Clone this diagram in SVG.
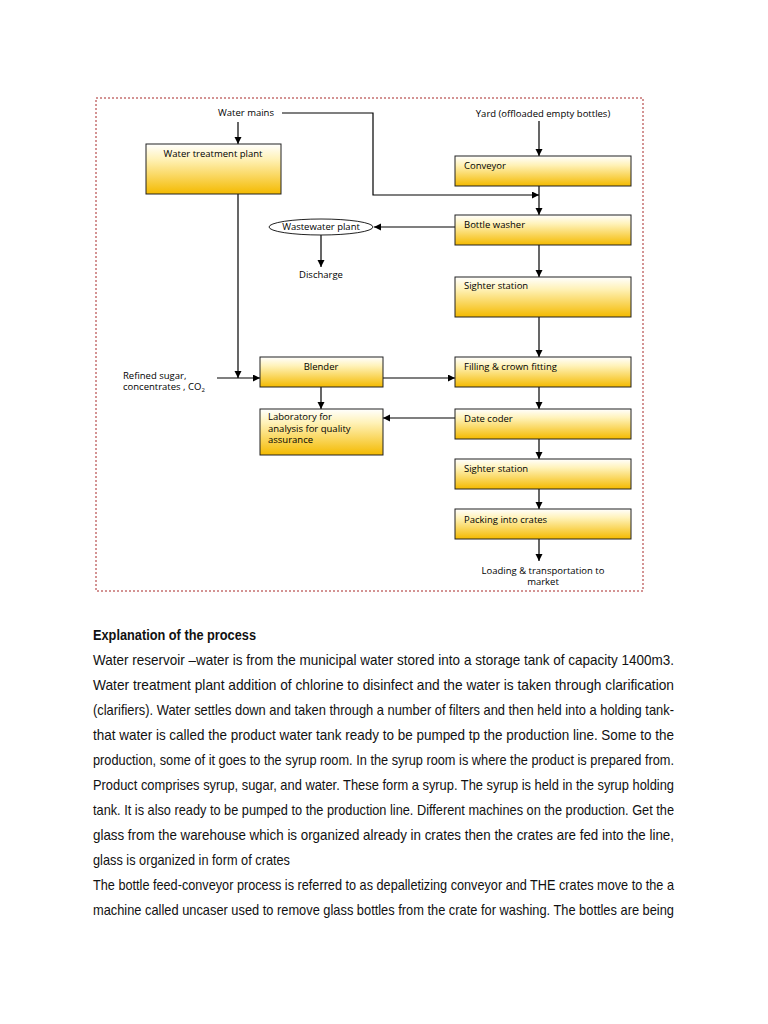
<svg xmlns="http://www.w3.org/2000/svg" width="768" height="1024" viewBox="0 0 768 1024">
<defs>
<linearGradient id="gold" x1="0" y1="0" x2="0" y2="1">
<stop offset="0" stop-color="#ffffff"/>
<stop offset="0.3" stop-color="#fff2b8"/>
<stop offset="1" stop-color="#f4ba00"/>
</linearGradient>
<marker id="ah" markerUnits="userSpaceOnUse" markerWidth="8" markerHeight="8" refX="7" refY="3.5" orient="auto">
<path d="M0,0 L7,3.5 L0,7 z" fill="#000"/>
</marker>
<style>
.box{fill:url(#gold);stroke:#222;stroke-width:1}
.lbl{font-family:"Open Sans","DejaVu Sans",sans-serif;font-size:9.5px;fill:#000}
.c{text-anchor:middle}
.con path{fill:none;stroke:#000;stroke-width:1.2;marker-end:url(#ah)}
.body{font-family:"Liberation Sans Narrow","Liberation Sans",Arial,sans-serif;font-size:14.5px;fill:#111}
</style>
</defs>
<rect width="768" height="1024" fill="#fff"/>
<rect x="96" y="98" width="547" height="493" fill="none" stroke="#a82828" stroke-width="1" stroke-dasharray="2,2"/>

<g class="con" id="connectors">
<path d="M238,122 V144"/>
<path d="M282,113 H373 V195 H539"/>
<path d="M539,121 V156"/>
<path d="M539,186 V215"/>
<path d="M455,227 H374"/>
<path d="M321,235 V267"/>
<path d="M539,245 V277"/>
<path d="M539,317 V357"/>
<path d="M539,387 V409"/>
<path d="M539,439 V459"/>
<path d="M539,489 V509"/>
<path d="M539,539 V561"/>
<path d="M238,194 V378"/>
<path d="M217,378 H260"/>
<path d="M383,378 H455"/>
<path d="M321,387 V409"/>
<path d="M455,418 H383"/>
</g>

<g id="water-mains"><text class="lbl c" x="246" y="116">Water mains</text></g>
<g id="yard"><text class="lbl c" x="543" y="117">Yard (offloaded empty bottles)</text></g>
<g id="water-treatment-plant"><rect class="box" x="146" y="144" width="135" height="50"/><text class="lbl c" x="213" y="157">Water treatment plant</text></g>
<g id="conveyor"><rect class="box" x="455" y="156" width="176" height="30"/><text class="lbl" x="464" y="169">Conveyor</text></g>
<g id="bottle-washer"><rect class="box" x="455" y="215" width="176" height="30"/><text class="lbl" x="464" y="228">Bottle washer</text></g>
<g id="wastewater-plant"><ellipse cx="321" cy="227" rx="52" ry="8" fill="#fff" stroke="#222" stroke-width="1"/><text class="lbl c" x="321" y="230">Wastewater plant</text></g>
<g id="discharge"><text class="lbl c" x="321" y="278">Discharge</text></g>
<g id="sighter-station-1"><rect class="box" x="455" y="277" width="176" height="40"/><text class="lbl" x="464" y="289">Sighter station</text></g>
<g id="filling"><rect class="box" x="455" y="357" width="176" height="30"/><text class="lbl" x="464" y="370">Filling &amp; crown fitting</text></g>
<g id="blender"><rect class="box" x="260" y="357" width="123" height="30"/><text class="lbl c" x="321" y="370">Blender</text></g>
<g id="ingredients"><text class="lbl" x="123" y="379">Refined sugar,</text><text class="lbl" x="123" y="390">concentrates , CO<tspan font-size="6" dy="2">2</tspan></text></g>
<g id="laboratory"><rect class="box" x="260" y="409" width="123" height="46"/><text class="lbl" x="268" y="420">Laboratory for</text><text class="lbl" x="268" y="432">analysis for quality</text><text class="lbl" x="268" y="443">assurance</text></g>
<g id="date-coder"><rect class="box" x="455" y="409" width="176" height="30"/><text class="lbl" x="464" y="422">Date coder</text></g>
<g id="sighter-station-2"><rect class="box" x="455" y="459" width="176" height="30"/><text class="lbl" x="464" y="472">Sighter station</text></g>
<g id="packing"><rect class="box" x="455" y="509" width="176" height="30"/><text class="lbl" x="464" y="523">Packing into crates</text></g>
<g id="loading"><text class="lbl c" x="543" y="574">Loading &amp; transportation to</text><text class="lbl c" x="543" y="585">market</text></g>

<g id="explanation">
<text class="body" x="93" y="640" font-weight="bold" textLength="163" lengthAdjust="spacingAndGlyphs">Explanation of the process</text>
<text class="body" x="93" y="665" textLength="581" lengthAdjust="spacingAndGlyphs">Water reservoir –water is from the municipal water stored into a storage tank of capacity 1400m3.</text>
<text class="body" x="93" y="690" textLength="581" lengthAdjust="spacingAndGlyphs">Water treatment plant addition of chlorine to disinfect and the water is taken through clarification</text>
<text class="body" x="93" y="715" textLength="581" lengthAdjust="spacingAndGlyphs">(clarifiers). Water settles down and taken through a number of filters and then held into a holding tank-</text>
<text class="body" x="93" y="740" textLength="581" lengthAdjust="spacingAndGlyphs">that water is called the product water tank ready to be pumped tp the production line. Some to the</text>
<text class="body" x="93" y="765" textLength="581" lengthAdjust="spacingAndGlyphs">production, some of it goes to the syrup room. In the syrup room is where the product is prepared from.</text>
<text class="body" x="93" y="790" textLength="581" lengthAdjust="spacingAndGlyphs">Product comprises syrup, sugar, and water. These form a syrup. The syrup is held in the syrup holding</text>
<text class="body" x="93" y="815" textLength="581" lengthAdjust="spacingAndGlyphs">tank. It is also ready to be pumped to the production line. Different machines on the production. Get the</text>
<text class="body" x="93" y="840" textLength="581" lengthAdjust="spacingAndGlyphs">glass from the warehouse which is organized already in crates then the crates are fed into the line,</text>
<text class="body" x="93" y="865" textLength="197" lengthAdjust="spacingAndGlyphs">glass is organized in form of crates</text>
<text class="body" x="93" y="890" textLength="581" lengthAdjust="spacingAndGlyphs">The bottle feed-conveyor process is referred to as depalletizing conveyor and THE crates move to the a</text>
<text class="body" x="93" y="915" textLength="581" lengthAdjust="spacingAndGlyphs">machine called uncaser used to remove glass bottles from the crate for washing. The bottles are being</text>
</g>
</svg>
